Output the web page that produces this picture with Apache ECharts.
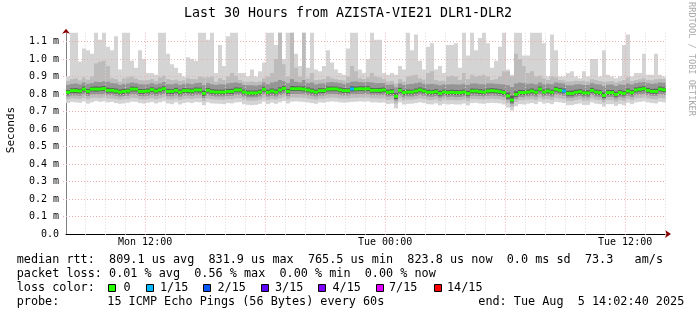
<!DOCTYPE html>
<html><head><meta charset="utf-8">
<script src="https://cdn.jsdelivr.net/npm/echarts@6/dist/echarts.min.js"></script>
<style>html,body{margin:0;padding:0;background:#fff}#c{width:697px;height:315px}</style>
</head><body><div id="c"></div>
<script>
// ---- time axis: hours counted from Mon 00:00 ----
const START_HOUR = 8 + 2/60 + 40/3600;   // Mon 08:02:40
const SPAN_HOURS = 30;
const STEP_HOURS = 0.2;                  // 12-minute consolidated columns
const xLabelHours = [12, 24, 36];
const xLabelTexts = ['Mon 12:00', 'Tue 00:00', 'Tue 12:00'];
const yTicks = [0, 0.1, 0.2, 0.3, 0.4, 0.5, 0.6, 0.7, 0.8, 0.9, 1.0, 1.1];
const Y_MAX = 1.15;

// ---- median rtt per column (ms) ----
const median = [
 .810,.819,.819,.817,.828,.815,.828,.828,.828,.831,
 .821,.821,.817,.811,.815,.817,.828,.828,.815,.815,
 .817,.825,.817,.823,.830,.815,.815,.821,.811,.819,
 .819,.817,.823,.823,.804,.821,.813,.811,.811,.811,
 .815,.815,.823,.823,.811,.806,.806,.806,.811,.827,
 .810,.817,.811,.823,.832,.815,.830,.830,.830,.828,
 .823,.817,.811,.819,.819,.828,.829,.829,.823,.819,
 .819,.829,.828,.830,.829,.830,.821,.821,.821,.823,
 .810,.813,.787,.821,.808,.811,.811,.817,.823,.817,
 .810,.810,.813,.804,.811,.808,.810,.808,.808,.811,
 .804,.817,.817,.813,.811,.817,.819,.817,.813,.808,
 .789,.766,.798,.808,.808,.811,.817,.810,.828,.811,
 .817,.810,.827,.821,.817,.804,.804,.810,.813,.806,
 .806,.821,.811,.808,.792,.808,.808,.798,.808,.804,
 .817,.808,.823,.827,.830,.821,.815,.815,.828,.824];

// columns with packet loss and their loss level (index into lossColors)
const lossColumns = [71, 124];
const lossLevels  = [1, 1];

// ---- smoke: ping distribution per column (ms) ----
const hi1 = [
 .90,1.15,1.15,.985,1.06,1.05,1.03,1.15,1.11,1.15,
 1.07,1.05,1.13,.94,1.15,1.15,.99,.95,1.05,1.0,
 .92,.92,.91,1.15,1.15,1.03,.97,.95,.92,.90,
 1.01,1.0,.99,1.15,1.15,1.11,1.15,.92,1.08,.96,
 1.13,1.15,1.15,.92,.92,.90,.94,.90,.93,.98,
 1.15,1.15,1.08,1.15,1.0,1.15,1.15,1.03,.96,1.15,
 .95,1.15,.94,.93,.96,1.05,.98,.94,.92,.91,
 1.06,1.15,1.15,.94,.92,1.0,1.15,1.11,1.11,.92,
 .91,.92,.91,.96,.94,1.15,1.05,1.14,.99,.94,
 1.07,1.09,.94,.96,.92,1.08,1.08,1.09,.95,1.15,
 1.02,1.15,1.05,1.12,1.15,1.09,.95,.99,1.07,1.15,
 .94,.91,1.15,1.15,1.02,1.02,1.15,1.15,1.15,1.09,
 .90,1.14,1.05,.90,.90,.92,.93,.90,.89,.93,
 .90,1.0,1.0,.90,1.05,.91,.90,.89,.90,1.08,
 1.14,.90,.92,.92,1.03,.91,.91,1.03,.91,.90];
const hi2 = [
 .875,.885,.890,.878,.895,.882,.900,.975,.985,.990,
 .960,.890,.885,.870,.890,.895,.900,.888,.880,.878,
 .880,.885,.875,.895,.905,.885,.880,.882,.875,.878,
 .890,.885,.885,.900,.895,.895,.900,.870,.890,.880,
 .900,.920,.905,.880,.872,.870,.872,.868,.872,.890,
 .900,.920,1.00,1.15,.970,.900,1.15,.950,.900,1.15,
 .890,.920,.880,.882,.885,.900,.890,.885,.880,.878,
 .900,.960,.930,.890,.885,.895,.920,.900,.895,.885,
 .872,.875,.860,.885,.872,.900,.905,.910,.890,.882,
 .920,.930,.880,.875,.876,.900,.905,.900,.880,.920,
 .885,.910,.900,.905,.910,.900,.880,.885,.900,.930,
 .930,.900,1.03,1.00,.960,.920,.930,.900,.905,.890,
 .880,.900,.895,.880,.878,.872,.872,.876,.874,.876,
 .872,.885,.880,.874,.870,.872,.874,.866,.872,.880,
 .895,.874,.880,.884,.890,.880,.878,.884,.886,.885];
const hi3 = [
 .852,.858,.860,.855,.866,.858,.862,.870,.868,.872,
 .870,.862,.860,.852,.858,.860,.866,.862,.856,.855,
 .856,.862,.855,.860,.868,.856,.855,.860,.852,.858,
 .860,.856,.862,.864,.850,.862,.856,.852,.856,.855,
 .860,.864,.866,.862,.852,.850,.850,.848,.852,.866,
 .856,.866,.870,.880,.874,.862,.885,.870,.866,.880,
 .862,.866,.855,.860,.860,.866,.868,.866,.862,.858,
 .862,.870,.872,.868,.866,.868,.866,.862,.862,.862,
 .852,.854,.838,.860,.852,.856,.858,.862,.866,.858,
 .856,.858,.855,.850,.855,.854,.856,.855,.854,.858,
 .852,.860,.860,.856,.856,.860,.860,.858,.856,.855,
 .850,.840,.860,.865,.862,.858,.860,.855,.866,.856,
 .858,.856,.866,.862,.860,.850,.850,.855,.856,.852,
 .852,.862,.856,.854,.845,.854,.854,.846,.854,.852,
 .860,.854,.862,.866,.868,.862,.858,.860,.866,.864];
const hi4 = [
 .823,.832,.833,.830,.842,.829,.841,.843,.842,.845,
 .836,.834,.831,.825,.829,.830,.842,.841,.829,.828,
 .831,.838,.831,.837,.844,.829,.828,.835,.825,.833,
 .832,.831,.837,.836,.820,.835,.827,.825,.824,.825,
 .829,.830,.837,.836,.825,.820,.819,.820,.825,.841,
 .824,.831,.826,.838,.846,.829,.845,.844,.843,.843,
 .837,.831,.825,.833,.832,.842,.843,.842,.837,.833,
 .832,.844,.842,.844,.843,.844,.835,.834,.835,.837,
 .824,.827,.805,.835,.822,.825,.824,.831,.837,.831,
 .824,.823,.827,.818,.825,.822,.824,.822,.821,.825,
 .818,.831,.830,.827,.825,.831,.833,.831,.827,.822,
 .808,.790,.815,.823,.822,.825,.831,.824,.842,.825,
 .831,.824,.841,.835,.831,.818,.819,.824,.827,.820,
 .821,.835,.825,.822,.808,.822,.823,.813,.822,.818,
 .831,.822,.837,.841,.844,.835,.829,.830,.842,.838];
const lo4 = [
 .797,.806,.805,.804,.815,.802,.815,.814,.816,.818,
 .808,.808,.803,.798,.801,.804,.815,.815,.802,.801,
 .804,.812,.804,.810,.817,.802,.801,.808,.797,.806,
 .806,.804,.810,.809,.790,.808,.800,.798,.798,.797,
 .802,.801,.810,.810,.798,.793,.792,.793,.798,.814,
 .797,.804,.798,.810,.819,.802,.817,.817,.817,.815,
 .810,.804,.798,.806,.806,.815,.816,.816,.810,.806,
 .806,.815,.815,.817,.816,.817,.808,.808,.807,.810,
 .797,.800,.772,.808,.795,.798,.798,.804,.810,.804,
 .797,.797,.800,.791,.798,.795,.797,.795,.795,.798,
 .791,.804,.804,.800,.798,.804,.806,.804,.800,.795,
 .774,.752,.784,.795,.795,.798,.804,.797,.815,.798,
 .804,.797,.814,.808,.804,.791,.791,.797,.800,.793,
 .793,.808,.798,.795,.778,.795,.795,.785,.795,.791,
 .804,.795,.810,.814,.817,.808,.802,.802,.815,.811];
const lo3 = [
 .786,.792,.792,.790,.798,.788,.798,.798,.797,.800,
 .794,.794,.790,.786,.788,.790,.798,.797,.788,.787,
 .790,.795,.790,.794,.800,.788,.787,.793,.785,.792,
 .792,.790,.794,.794,.778,.793,.788,.786,.786,.785,
 .788,.789,.795,.795,.786,.781,.780,.781,.786,.798,
 .785,.790,.786,.794,.802,.788,.800,.800,.800,.798,
 .794,.790,.786,.792,.792,.798,.800,.799,.794,.792,
 .792,.799,.798,.800,.799,.800,.794,.794,.793,.794,
 .785,.788,.762,.793,.782,.786,.786,.790,.794,.790,
 .785,.784,.788,.779,.786,.782,.785,.782,.783,.786,
 .779,.790,.790,.788,.786,.790,.792,.790,.788,.783,
 .765,.742,.772,.783,.782,.786,.790,.785,.798,.786,
 .790,.785,.798,.794,.790,.779,.779,.785,.788,.781,
 .781,.794,.786,.783,.768,.783,.783,.774,.783,.779,
 .790,.783,.794,.798,.800,.794,.790,.789,.798,.796];
const lo2 = [
 .770,.775,.774,.772,.778,.770,.778,.779,.776,.780,
 .775,.774,.772,.768,.770,.772,.778,.777,.770,.768,
 .772,.776,.770,.775,.780,.770,.768,.774,.766,.772,
 .774,.772,.776,.776,.760,.774,.770,.768,.768,.766,
 .770,.770,.776,.776,.768,.762,.762,.763,.768,.778,
 .766,.772,.768,.775,.782,.770,.780,.780,.780,.778,
 .775,.772,.768,.774,.774,.778,.780,.779,.775,.774,
 .774,.778,.778,.780,.779,.780,.775,.775,.774,.775,
 .766,.769,.745,.775,.764,.768,.768,.772,.776,.772,
 .766,.765,.770,.760,.768,.764,.766,.764,.765,.768,
 .760,.772,.772,.770,.768,.772,.774,.772,.770,.765,
 .748,.726,.755,.765,.764,.768,.772,.766,.778,.768,
 .772,.766,.778,.775,.772,.760,.760,.766,.770,.762,
 .762,.775,.768,.765,.752,.765,.765,.756,.765,.760,
 .772,.765,.775,.778,.780,.775,.772,.770,.778,.776];
const lo1 = [
 .748,.755,.752,.750,.758,.745,.752,.760,.755,.758,
 .752,.755,.748,.744,.746,.750,.756,.755,.748,.745,
 .750,.754,.746,.752,.758,.746,.742,.752,.740,.748,
 .752,.748,.754,.752,.736,.752,.746,.745,.744,.742,
 .748,.746,.752,.754,.742,.738,.736,.738,.744,.756,
 .742,.750,.744,.752,.760,.746,.756,.758,.756,.755,
 .752,.748,.744,.752,.750,.755,.758,.756,.752,.750,
 .752,.755,.756,.758,.756,.758,.752,.752,.750,.752,
 .742,.745,.718,.752,.740,.744,.745,.748,.752,.748,
 .742,.740,.746,.735,.744,.740,.742,.740,.740,.745,
 .735,.748,.750,.746,.744,.748,.750,.748,.746,.740,
 .722,.705,.730,.742,.740,.745,.748,.742,.755,.745,
 .748,.742,.755,.752,.748,.736,.736,.742,.746,.738,
 .738,.752,.745,.742,.728,.742,.742,.732,.742,.736,
 .750,.742,.752,.755,.758,.752,.748,.746,.755,.752];

// ---- legend texts ----
const TITLE = 'Last 30 Hours from AZISTA-VIE21 DLR1-DLR2';
const statLines = [
 'median rtt:  809.1 us avg  831.9 us max  765.5 us min  823.8 us now  0.0 ms sd  73.3   am/s',
 'packet loss: 0.01 % avg  0.56 % max  0.00 % min  0.00 % now'];
const lossLabels = ['0', '1/15', '2/15', '3/15', '4/15', '7/15', '14/15'];
const lossColors = ['#26ff00', '#00b8ff', '#0059ff', '#5e00ff', '#7e00ff', '#dd00ff', '#ff0000'];
const probeText = '15 ICMP Echo Pings (56 Bytes) every 60s';
const endText = 'end: Tue Aug  5 14:02:40 2025';

// ---- styling ----
const MONO = '"DejaVu Sans Mono", monospace';
const smokeColors = ['#d4d4d4', '#bcbcbc', '#959595', '#5a5a5a'];
const LEG_FONT = '11.8px ' + MONO;

// ---- build series data ----
const colX = k => START_HOUR + k * STEP_HOURS;
const smokeData = median.map((m, k) => [colX(k), lo1[k], hi1[k], lo2[k], hi2[k], lo3[k], hi3[k], lo4[k], hi4[k]]);
const medData = median.map((m, k) => {
  const j = lossColumns.indexOf(k);
  return [colX(k), m, j < 0 ? 0 : lossLevels[j]];
});
const gridHours = [];
for (let h = Math.ceil(START_HOUR); h <= START_HOUR + SPAN_HOURS; h++) gridHours.push(h);

function renderSmoke(params, api) {
  const x0 = api.value(0), x1 = x0 + STEP_HOURS;
  const children = [];
  for (let i = 0; i < 4; i++) {
    const pTop = api.coord([x0, api.value(2 + 2 * i)]);
    const pBot = api.coord([x1, api.value(1 + 2 * i)]);
    children.push({type: 'rect', shape: {x: pTop[0], y: pTop[1], width: pBot[0] - pTop[0], height: pBot[1] - pTop[1]},
      style: {fill: smokeColors[i]}});
  }
  return {type: 'group', children};
}
function renderMedian(params, api) {
  const x0 = api.value(0), x1 = x0 + STEP_HOURS;
  const p0 = api.coord([x0, api.value(1)]);
  const p1 = api.coord([x1, api.value(1)]);
  return {type: 'rect', shape: {x: p0[0], y: p0[1] - 1.5, width: p1[0] - p0[0], height: 3},
    style: {fill: lossColors[api.value(2)]}};
}
function renderVGrid(params, api) {
  const h = api.value(0);
  const top = api.coord([h, Y_MAX]), bot = api.coord([h, 0]);
  const x = Math.round(top[0]) + 0.5;
  const major = h % 6 === 0;
  return {type: 'line', shape: {x1: x, y1: top[1], x2: x, y2: bot[1] + 2},
    style: {stroke: major ? '#eab0b0' : '#dadada', lineWidth: 1, lineDash: [1, 2]}};
}
function renderHGrid(params, api) {
  const v = api.value(1);
  const l = api.coord([START_HOUR, v]), r = api.coord([START_HOUR + SPAN_HOURS, v]);
  const y = Math.floor(l[1]) + 0.5;
  return {type: 'line', shape: {x1: l[0] - 3, y1: y, x2: r[0], y2: y},
    style: {stroke: '#eab0b0', lineWidth: 1, lineDash: [1, 2]}};
}

const graphic = [
  {type: 'text', x: 348, y: 14, style: {text: TITLE, font: '13.3px ' + MONO, fill: '#000', align: 'center', verticalAlign: 'middle'}},
  {type: 'text', x: 11, y: 130, rotation: Math.PI / 2, style: {text: 'Seconds', font: '11px ' + MONO, fill: '#000', align: 'center', verticalAlign: 'middle'}},
  {type: 'text', x: 691, y: 59, rotation: -Math.PI / 2, style: {text: 'RRDTOOL / TOBI OETIKER', font: '8.6px ' + MONO, fill: '#aaaaaa', align: 'center', verticalAlign: 'middle'}},
  {type: 'text', x: 16.7, y: 260, style: {text: statLines[0], font: LEG_FONT, fill: '#000', verticalAlign: 'middle'}},
  {type: 'text', x: 16.7, y: 273.5, style: {text: statLines[1], font: LEG_FONT, fill: '#000', verticalAlign: 'middle'}},
  {type: 'text', x: 16.7, y: 287.7, style: {text: 'loss color:', font: LEG_FONT, fill: '#000', verticalAlign: 'middle'}},
  {type: 'text', x: 16.7, y: 301.7, style: {text: 'probe:', font: LEG_FONT, fill: '#000', verticalAlign: 'middle'}},
  {type: 'text', x: 107.3, y: 301.7, style: {text: probeText, font: LEG_FONT, fill: '#000', verticalAlign: 'middle'}},
  {type: 'text', x: 478.3, y: 301.7, style: {text: endText, font: LEG_FONT, fill: '#000', verticalAlign: 'middle'}}
];
const boxX = [108, 146, 203, 261, 318, 376, 434];
const labX = [123.5, 160, 217.5, 275, 332.5, 389, 447];
lossLabels.forEach((lab, i) => {
  graphic.push({type: 'rect', shape: {x: boxX[i] + 0.5, y: 284.5, width: 7, height: 7},
    style: {fill: lossColors[i], stroke: '#000', lineWidth: 1}});
  graphic.push({type: 'text', x: labX[i], y: 287.7, style: {text: lab, font: LEG_FONT, fill: '#000', verticalAlign: 'middle'}});
});

const chart = echarts.init(document.getElementById('c'), null, {renderer: 'canvas'});
chart.setOption({
  animation: false,
  backgroundColor: '#ffffff',
  grid: {left: 66, top: 32.75, width: 600, height: 201.25},
  xAxis: [{
    type: 'value', min: START_HOUR, max: START_HOUR + SPAN_HOURS,
    splitLine: {show: false},
    axisLine: {show: true, lineStyle: {color: '#000', width: 1}},
    axisTick: {show: false},
    axisLabel: {customValues: xLabelHours, margin: 3, color: '#000', fontFamily: MONO, fontSize: 10,
      formatter: v => xLabelTexts[xLabelHours.indexOf(v)] || ''}
  }, {
    type: 'value', position: 'bottom', min: START_HOUR, max: START_HOUR + SPAN_HOURS,
    splitLine: {show: false}, axisTick: {show: false}, axisLabel: {show: false},
    axisLine: {show: true, symbol: ['none', 'arrow'], symbolSize: [6, 6], symbolOffset: [0, 5],
      lineStyle: {color: '#8b0000', width: 0}}
  }],
  yAxis: [{
    type: 'value', min: 0, max: Y_MAX,
    splitLine: {show: false},
    axisLine: {show: true, lineStyle: {color: '#808080', width: 1}},
    axisTick: {show: false},
    axisLabel: {customValues: yTicks, margin: 7, color: '#000', fontFamily: MONO, fontSize: 10,
      formatter: v => v === 0 ? '0.0' : v.toFixed(1) + ' m'}
  }, {
    type: 'value', position: 'left', min: 0, max: Y_MAX,
    splitLine: {show: false}, axisTick: {show: false}, axisLabel: {show: false},
    axisLine: {show: true, symbol: ['none', 'arrow'], symbolSize: [6, 5], symbolOffset: [0, 4],
      lineStyle: {color: '#8b0000', width: 0}}
  }],
  series: [
    {type: 'custom', name: 'smoke', renderItem: renderSmoke, data: smokeData, z: 1, silent: true,
      encode: {x: 0, y: [1, 2]}},
    {type: 'custom', name: 'vgrid', renderItem: renderVGrid, data: gridHours.map(h => [h, 0]), z: 2, silent: true,
      encode: {x: 0, y: 1}},
    {type: 'custom', name: 'hgrid', renderItem: renderHGrid, data: yTicks.filter(v => v > 0).map(v => [START_HOUR, v]), z: 2, silent: true,
      encode: {x: 0, y: 1}},
    {type: 'custom', name: 'median', renderItem: renderMedian, data: medData, z: 3, silent: true,
      encode: {x: 0, y: 1}}
  ],
  graphic: graphic
});
</script>
</body></html>
